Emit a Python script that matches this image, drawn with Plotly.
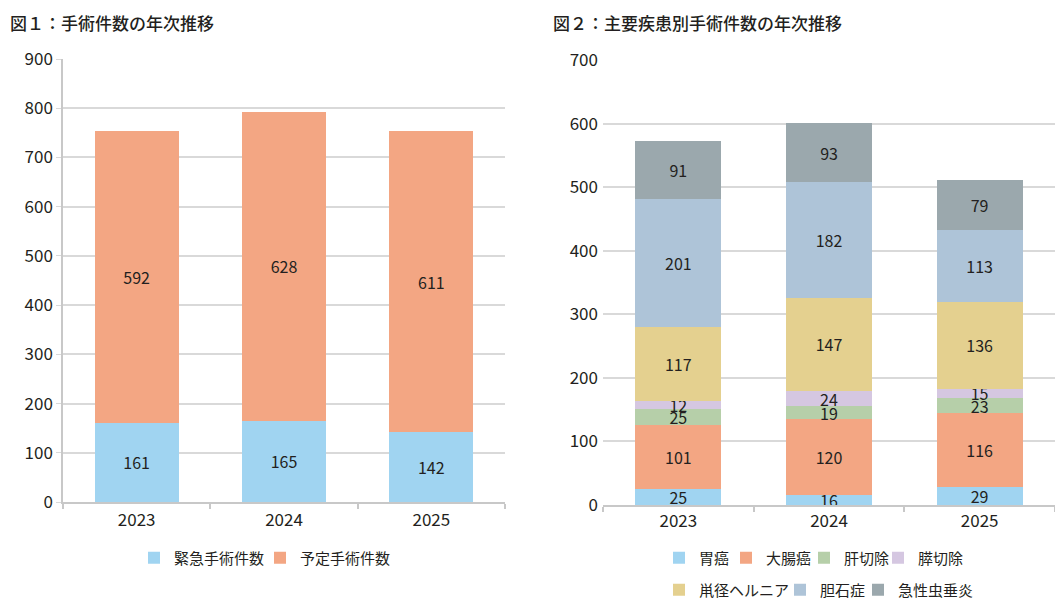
import plotly.graph_objs as go
from plotly.subplots import make_subplots

# データ
years = ['2023', '2024', '2025']

# 図1
kinkyu = [161, 165, 142]
yotei = [592, 628, 611]
fig1_names = ['緊急手術件数', '予定手術件数']

# 図2
ig = [25, 16, 29]
daicho = [101, 120, 116]
kan = [25, 19, 23]
sui = [12, 24, 15]
sokei = [117, 147, 136]
tanseki = [201, 182, 113]
chusui = [91, 93, 79]
fig2_names = ['胃癌', '大腸癌', '肝切除', '膵切除', '鼡径ヘルニア', '胆石症', '急性虫垂炎']

colors = ['#a0d4f1', '#f3a683', '#b6cfa9', '#d5c7e1', '#e4d08f', '#aec4d8', '#9ba8ad']
FONT = 'Noto Sans CJK JP'
TXT = '#231f20'

W, H = 1063, 606
OFF = 8  # ページの body margin 分


def px(x):
    return (x - OFF) / W


def py(y):
    return 1 - (y - OFF) / H


# 凡例の位置 (画面上のピクセル, 四角の左端)
leg_pos = [(152, 558), (278, 558),
           (677, 558), (744, 558), (822, 558), (896, 558),
           (677, 590), (798, 590), (876, 590)]

fig = make_subplots(rows=1, cols=2)

names = fig1_names + fig2_names
all_vals = [kinkyu, yotei, ig, daicho, kan, sui, sokei, tanseki, chusui]
cols = colors[:2] + colors
for i, (vals, name, c) in enumerate(zip(all_vals, names, cols)):
    leg = 'legend' if i == 0 else 'legend%d' % (i + 1)
    fig.add_trace(go.Bar(x=years, y=vals, name=name, marker=dict(color=c, line=dict(width=0)),
                         text=vals, textposition='inside', insidetextanchor='middle', textangle=0,
                         insidetextfont=dict(color=TXT, size=16, family=FONT),
                         legend=leg, hoverinfo='skip'), 1, 1 if i < 2 else 2)

legends = {}
for i, (lx, ly) in enumerate(leg_pos):
    key = 'legend' if i == 0 else 'legend%d' % (i + 1)
    legends[key] = dict(orientation='h', x=px(lx - 18), y=py(ly), xanchor='left', yanchor='middle',
                        font=dict(size=15), bgcolor='rgba(0,0,0,0)')

grid = '#d9d9d9'
axline = '#c8c8c8'
fig.update_layout(
    width=W, height=H, barmode='stack', bargap=0.43,
    margin=dict(l=0, r=0, t=0, b=0, autoexpand=False),
    plot_bgcolor='white', paper_bgcolor='white',
    font=dict(family=FONT, color=TXT, size=17),
    uniformtext=dict(mode='show', minsize=16),
    xaxis=dict(domain=[px(63), px(505)], showline=True, linecolor=axline, linewidth=1.5,
               ticks='outside', tickson='boundaries', ticklen=5, tickcolor=axline, tickwidth=1.5,
               ticklabelstandoff=2),
    yaxis=dict(domain=[py(502), py(59)], range=[0, 900], dtick=100, showline=True,
               linecolor=axline, linewidth=1.5, gridcolor=grid, gridwidth=1.5,
               ticks='outside', ticklen=5, tickcolor=grid, zeroline=False),
    xaxis2=dict(domain=[px(603), px(1055)], showline=True, linecolor=axline, linewidth=1.5,
                ticks='outside', tickson='boundaries', ticklen=5, tickcolor=axline, tickwidth=1.5),
    yaxis2=dict(domain=[py(505), py(60)], range=[0, 700], dtick=100, showline=False,
                gridcolor=grid, gridwidth=1.5, ticks='', zeroline=False, ticklabelstandoff=4),
    showlegend=True,
    **legends
)

fig.add_annotation(text='図１：手術件数の年次推移', x=px(8), y=py(8), xref='paper', yref='paper',
                   xanchor='left', yanchor='top', showarrow=False,
                   font=dict(size=17, color=TXT, family=FONT, weight=500))
fig.add_annotation(text='図２：主要疾患別手術件数の年次推移', x=px(551), y=py(8), xref='paper', yref='paper',
                   xanchor='left', yanchor='top', showarrow=False,
                   font=dict(size=17, color=TXT, family=FONT, weight=500))

fig.write_html('out.html')
